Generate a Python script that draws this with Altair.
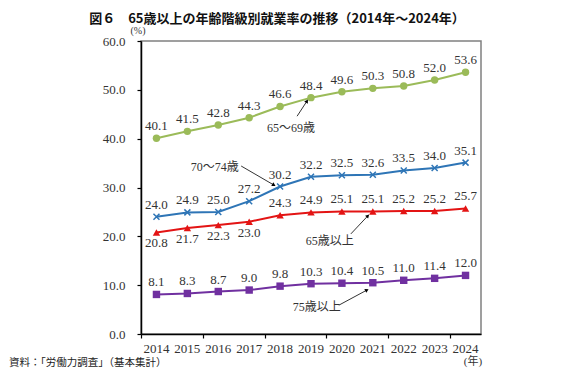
import math
import altair as alt
import pandas as pd

# ---------------- data ----------------
years = list(range(2014, 2025))
series_names = ["65～69歳", "70～74歳", "65歳以上", "75歳以上"]
v_6569 = [40.1, 41.5, 42.8, 44.3, 46.6, 48.4, 49.6, 50.3, 50.8, 52.0, 53.6]
v_7074 = [24.0, 24.9, 25.0, 27.2, 30.2, 32.2, 32.5, 32.6, 33.5, 34.0, 35.1]
v_65up = [20.8, 21.7, 22.3, 23.0, 24.3, 24.9, 25.1, 25.1, 25.2, 25.2, 25.7]
v_75up = [8.1, 8.3, 8.7, 9.0, 9.8, 10.3, 10.4, 10.5, 11.0, 11.4, 12.0]
y_ticks = [0, 10, 20, 30, 40, 50, 60]
x_tick_labels = [str(y) for y in years]

# annotation callouts (data coordinates): label, text x/y, arrow start x/y, arrow tip x/y
ann_labels = ["65～69歳", "70～74歳", "65歳以上", "75歳以上"]
ann_text_x = [2018.35, 2015.89, 2019.61, 2019.19]
ann_text_y = [42.2, 34.2, 19.0, 5.5]
ann_from_x = [2018.55, 2016.74, 2020.29, 2019.90]
ann_from_y = [44.6, 34.4, 20.5, 5.9]
ann_to_x = [2018.87, 2017.80, 2020.84, 2020.81]
ann_to_y = [47.7, 30.5, 24.2, 9.0]

title_text = "図６　65歳以上の年齢階級別就業率の推移（2014年～2024年）"
source_text = "資料：「労働力調査」（基本集計）"

# ---------------- layout ----------------
W, H = 340, 293
PAD_L, PAD_T, PAD_R, PAD_B = 133, 33, 99, 34
X_DOM = [2013.5, 2024.5]
Y_DOM = [0, 60]
px_per_x = W / (X_DOM[1] - X_DOM[0])
px_per_y = H / (Y_DOM[1] - Y_DOM[0])

SERIF = "Liberation Serif"
CJK_SERIF = "Liberation Serif, Noto Sans CJK JP, sans-serif"
GOTHIC = "Noto Sans CJK JP"
colors = ["#9BBB59", "#2E75B6", "#E31414", "#7030A0"]

rows = []
for name, vals in zip(series_names, [v_6569, v_7074, v_65up, v_75up]):
    for i, (yr, v) in enumerate(zip(years, vals)):
        below = name == "65歳以上" and i < 4
        rows.append({"year": yr, "value": v, "series": name,
                     "label": f"{v:.1f}", "below": below})
df = pd.DataFrame(rows)

ann_rows = []
for lab, tx, ty, fx, fy, ex, ey in zip(ann_labels, ann_text_x, ann_text_y,
                                       ann_from_x, ann_from_y, ann_to_x, ann_to_y):
    dxp = (ex - fx) * px_per_x
    dyp = -(ey - fy) * px_per_y
    ang = math.degrees(math.atan2(dxp, -dyp)) % 360
    ann_rows.append({"label": lab, "tx": tx, "ty": ty, "fx": fx, "fy": fy,
                     "ex": ex, "ey": ey, "angle": ang})
ann = pd.DataFrame(ann_rows)

x_scale = alt.Scale(domain=X_DOM, nice=False, zero=False)
y_scale = alt.Scale(domain=Y_DOM, nice=False, zero=False)
color_scale = alt.Scale(domain=series_names, range=colors)

x_enc = alt.X("year:Q", scale=x_scale, axis=alt.Axis(
    values=[X_DOM[0] + i for i in range(12)], labels=False,
    grid=False, title=None, tickSize=4, tickColor="#000", domainColor="#000",
    domainWidth=1.5, tickWidth=1.2))
y_enc = alt.Y("value:Q", scale=y_scale, axis=alt.Axis(
    values=y_ticks, format=".1f", grid=False, title=None, tickSize=4,
    tickColor="#000", domainColor="#000", domainWidth=1.5, tickWidth=1.2,
    labelFont=SERIF, labelFontSize=13, labelColor="#333", labelPadding=12))

base = alt.Chart(df)
lines = base.mark_line(strokeWidth=2).encode(
    x=x_enc, y=y_enc,
    color=alt.Color("series:N", scale=color_scale, legend=None),
    detail="series:N")

filled = base.transform_filter(alt.datum.series != "70～74歳").mark_point(
    filled=True, opacity=1, size=55).encode(
    x="year:Q", y="value:Q",
    color=alt.Color("series:N", scale=color_scale, legend=None),
    shape=alt.Shape("series:N", scale=alt.Scale(
        domain=["65～69歳", "65歳以上", "75歳以上"],
        range=["circle", "triangle-up", "square"]), legend=None))

crosses = base.transform_filter(alt.datum.series == "70～74歳").mark_point(
    shape="M-1,-1L1,1M-1,1L1,-1", filled=False, size=36, strokeWidth=1.5,
    opacity=1, color=colors[1]).encode(x="year:Q", y="value:Q")

lab_above = base.transform_filter(alt.datum.below == False).mark_text(
    font=SERIF, fontSize=13, color="#333", dy=-12, baseline="middle").encode(
    x="year:Q", y="value:Q", text="label:N")
lab_below = base.transform_filter(alt.datum.below == True).mark_text(
    font=SERIF, fontSize=13, color="#333", dy=11, baseline="middle").encode(
    x="year:Q", y="value:Q", text="label:N")

# x tick labels (years) at category centres, below the axis
xlab_df = pd.DataFrame({"year": years, "t": x_tick_labels, "zero": 0})
xlabels = alt.Chart(xlab_df).mark_text(
    font=SERIF, fontSize=13, color="#333", dy=15, baseline="middle").encode(
    x="year:Q", y="zero:Q", text="t:N")

abase = alt.Chart(ann)
ann_text = abase.mark_text(font=CJK_SERIF, fontSize=12, color="#333",
                           baseline="middle").encode(
    x="tx:Q", y="ty:Q", text="label:N")
ann_line = abase.mark_rule(color="#000", strokeWidth=0.8).encode(
    x="fx:Q", y="fy:Q", x2="ex:Q", y2="ey:Q")
ann_head = abase.mark_point(shape="triangle-up", filled=True, size=18,
                            color="#000", opacity=1).encode(
    x="ex:Q", y="ey:Q", angle=alt.Angle("angle:Q", scale=None))

misc = pd.DataFrame({"t": ["(%)", "(年)"], "x": [X_DOM[0], X_DOM[1]],
                     "y": [Y_DOM[1], Y_DOM[0]]})
pct = alt.Chart(misc[misc.t == "(%)"]).mark_text(
    font=SERIF, fontSize=10, color="#333", dx=-3, dy=-10).encode(
    x="x:Q", y="y:Q", text="t:N")
nen = alt.Chart(misc[misc.t == "(年)"]).mark_text(
    font=CJK_SERIF, fontSize=11, color="#333", dx=-8, dy=28).encode(
    x="x:Q", y="y:Q", text="t:N")

title = alt.Chart(pd.DataFrame({"t": [title_text]})).mark_text(
    font=GOTHIC, fontSize=13, fontWeight="bold", color="#111",
    baseline="middle").encode(x=alt.value(136), y=alt.value(-22), text="t:N")
source = alt.Chart(pd.DataFrame({"t": [source_text]})).mark_text(
    font=GOTHIC, fontSize=10.5, color="#222", align="left",
    baseline="middle").encode(x=alt.value(-132), y=alt.value(322), text="t:N")

chart = alt.layer(lines, filled, crosses, lab_above, lab_below, xlabels,
                  ann_line, ann_head, ann_text, pct, nen, title, source).properties(
    width=W, height=H,
    autosize=alt.AutoSizeParams(type="none"),
    padding={"left": PAD_L, "top": PAD_T, "right": PAD_R, "bottom": PAD_B},
).configure_view(stroke="#808080", strokeWidth=1.5)

chart.save("out.html", embed_options={"renderer": "svg", "actions": False})
